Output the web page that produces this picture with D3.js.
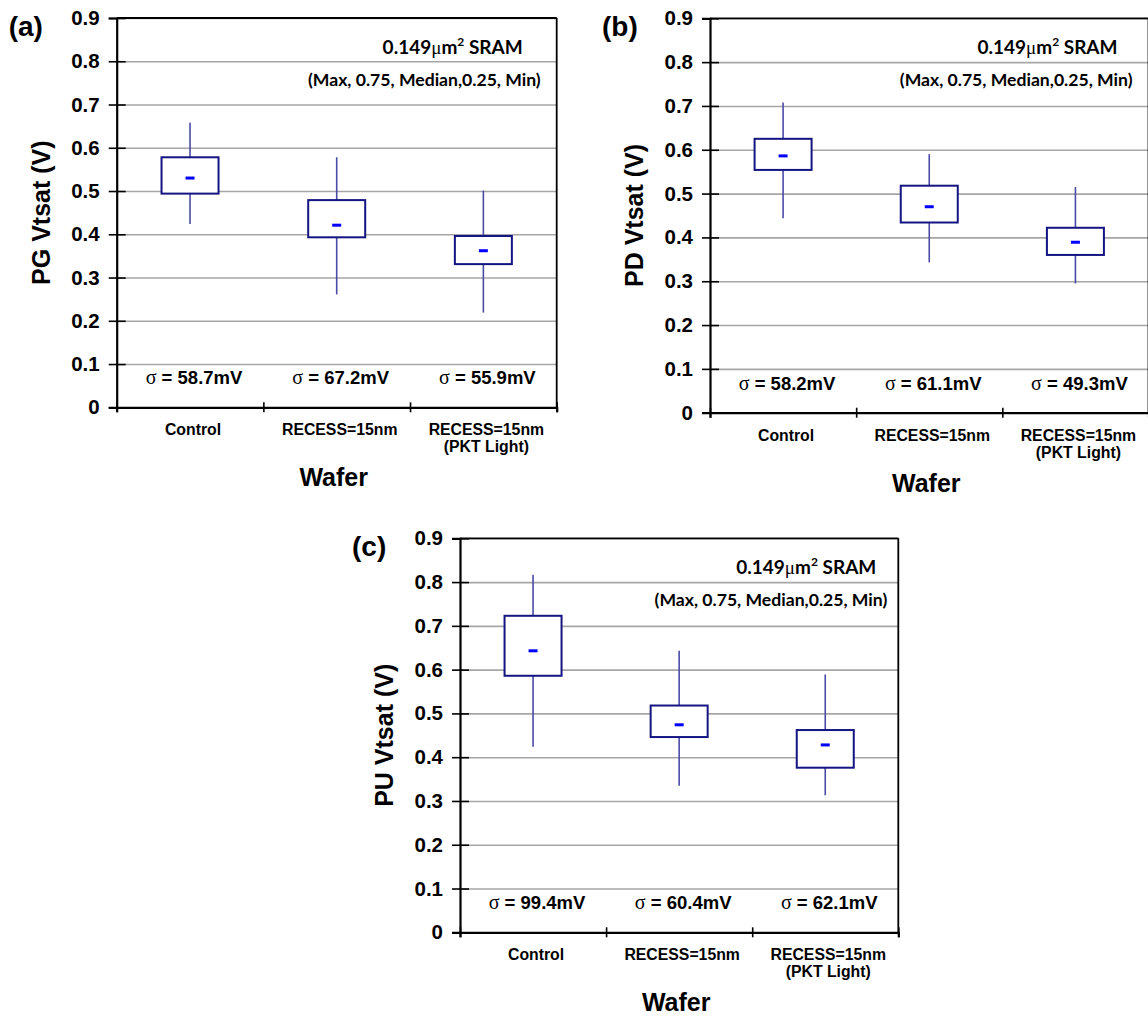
<!DOCTYPE html>
<html>
<head>
<meta charset="utf-8">
<script src="https://cdn.jsdelivr.net/npm/d3@7"></script>
<style>
  body { margin: 0; background: #fff; }
</style>
</head>
<body>
<div id="chart-container"></div>
<script>
// categories on the x axis (one entry per line of the label)
const categories = [["Control"], ["RECESS=15nm"], ["RECESS=15nm", "(PKT Light)"]];
const yTicks = [0, 0.1, 0.2, 0.3, 0.4, 0.5, 0.6, 0.7, 0.8, 0.9];
const yTickLabels = ["0", "0.1", "0.2", "0.3", "0.4", "0.5", "0.6", "0.7", "0.8", "0.9"];

// (a) PG Vtsat
const pgMax    = [0.658, 0.578, 0.501];
const pgQ3     = [0.578, 0.479, 0.396];
const pgMedian = [0.530, 0.421, 0.362];
const pgQ1     = [0.494, 0.393, 0.331];
const pgMin    = [0.424, 0.261, 0.219];
const pgSigma  = ["58.7", "67.2", "55.9"];

// (b) PD Vtsat
const pdMax    = [0.708, 0.590, 0.515];
const pdQ3     = [0.625, 0.518, 0.422];
const pdMedian = [0.586, 0.470, 0.389];
const pdQ1     = [0.554, 0.434, 0.360];
const pdMin    = [0.444, 0.343, 0.295];
const pdSigma  = ["58.2", "61.1", "49.3"];

// (c) PU Vtsat
const puMax    = [0.817, 0.643, 0.589];
const puQ3     = [0.723, 0.518, 0.462];
const puMedian = [0.643, 0.474, 0.428];
const puQ1     = [0.586, 0.446, 0.376];
const puMin    = [0.424, 0.335, 0.313];
const puSigma  = ["99.4", "60.4", "62.1"];

const panels = [
  {tag: "(a)", title: "PG Vtsat (V)", max: pgMax, q3: pgQ3, med: pgMedian, q1: pgQ1, min: pgMin, sigma: pgSigma,
   left: 116.7, right: 556.7, top: 18, bottom: 407.3, sramDx: 34, noteDx: 16},
  {tag: "(b)", title: "PD Vtsat (V)", max: pdMax, q3: pdQ3, med: pdMedian, q1: pdQ1, min: pdMin, sigma: pdSigma,
   left: 710, right: 1148.5, top: 18.3, bottom: 412.7, sramDx: 31, noteDx: 16},
  {tag: "(c)", title: "PU Vtsat (V)", max: puMax, q3: puQ3, med: puMedian, q1: puQ1, min: puMin, sigma: puSigma,
   left: 460, right: 898.3, top: 538.3, bottom: 932.3, sramDx: 22, noteDx: 11}
];

const arial = "'Liberation Sans', Arial, sans-serif";
const calibri = "Lato, 'Open Sans', sans-serif";
const symbolFont = "'Liberation Serif', 'DejaVu Serif', serif";

const svg = d3.select("#chart-container")
  .append("svg")
  .attr("width", 1148)
  .attr("height", 1019);

function drawPanel(p) {
  const g = svg.append("g");
  const wid = p.right - p.left;

  const xScale = d3.scaleBand()
    .domain(d3.range(categories.length))
    .range([p.left, p.right]);
  const edgeScale = d3.scaleLinear()
    .domain([0, categories.length])
    .range([p.left, p.right]);
  const yScale = d3.scaleLinear()
    .domain([0, 0.9])
    .range([p.bottom, p.top]);

  // grid lines
  g.append("g")
    .attr("transform", `translate(${p.left},0)`)
    .call(d3.axisLeft(yScale).tickValues(yTicks).tickSize(-wid).tickFormat(""))
    .call(a => a.select(".domain").remove())
    .call(a => a.selectAll("line").attr("stroke", "#a6a6a6").attr("stroke-width", 1.6));

  // frame top / right
  g.append("line")
    .attr("x1", p.left).attr("x2", p.right)
    .attr("y1", p.top).attr("y2", p.top)
    .attr("stroke", "#000").attr("stroke-width", 1.8);
  g.append("line")
    .attr("x1", p.right).attr("x2", p.right)
    .attr("y1", p.top).attr("y2", p.bottom)
    .attr("stroke", "#000").attr("stroke-width", 1.8);

  // y axis, ticks crossing the line
  const yAxis = g.append("g")
    .attr("transform", `translate(${p.left},0)`)
    .call(d3.axisLeft(yScale).tickValues(yTicks).tickSize(8).tickPadding(9)
      .tickFormat((d, i) => yTickLabels[i]));
  yAxis.select(".domain").attr("stroke-width", 2.2);
  yAxis.selectAll("line").attr("stroke-width", 1.6);
  yAxis.selectAll("text")
    .style("font-family", arial)
    .style("font-weight", "bold")
    .style("font-size", "20.5px")
    .attr("fill", "#000");
  g.append("g")
    .attr("transform", `translate(${p.left},0)`)
    .call(d3.axisRight(yScale).tickValues(yTicks).tickSize(9).tickFormat(""))
    .call(a => a.select(".domain").remove())
    .call(a => a.selectAll("line").attr("stroke-width", 1.6));

  // x axis with ticks at the category edges
  const xAxis = g.append("g")
    .attr("transform", `translate(0,${p.bottom})`)
    .call(d3.axisBottom(edgeScale).tickValues(d3.range(categories.length + 1)).tickSize(5).tickFormat(""));
  xAxis.select(".domain").attr("stroke-width", 2.2);
  xAxis.selectAll("line").attr("stroke-width", 1.6);
  g.append("g")
    .attr("transform", `translate(0,${p.bottom})`)
    .call(d3.axisTop(edgeScale).tickValues(d3.range(categories.length + 1)).tickSize(5).tickFormat(""))
    .call(a => a.select(".domain").remove())
    .call(a => a.selectAll("line").attr("stroke-width", 1.6));

  // category labels
  categories.forEach((lines, i) => {
    const t = g.append("text")
      .attr("x", xScale(i) + xScale.bandwidth() / 2 + 3)
      .attr("y", p.bottom + 28)
      .attr("text-anchor", "middle")
      .style("font-family", arial)
      .style("font-weight", "bold")
      .style("font-size", "15.8px");
    lines.forEach((s, k) => {
      t.append("tspan")
        .attr("x", xScale(i) + xScale.bandwidth() / 2 + 3)
        .attr("dy", k === 0 ? 0 : 17)
        .text(s);
    });
  });

  // box plots
  const boxW = 57;
  const idx = d3.range(categories.length);
  const cx = i => xScale(i) + xScale.bandwidth() / 2;

  g.selectAll(".whisker")
    .data(idx)
    .join("line")
    .attr("x1", cx).attr("x2", cx)
    .attr("y1", i => yScale(p.max[i]))
    .attr("y2", i => yScale(p.min[i]))
    .attr("stroke", "#4b4ba6")
    .attr("stroke-width", 1.6);

  g.selectAll(".box")
    .data(idx)
    .join("rect")
    .attr("x", i => cx(i) - boxW / 2)
    .attr("y", i => yScale(p.q3[i]))
    .attr("width", boxW)
    .attr("height", i => yScale(p.q1[i]) - yScale(p.q3[i]))
    .attr("fill", "#fff")
    .attr("stroke", "#141482")
    .attr("stroke-width", 2);

  g.selectAll(".median")
    .data(idx)
    .join("line")
    .attr("x1", i => cx(i) - 4.5)
    .attr("x2", i => cx(i) + 4.5)
    .attr("y1", i => yScale(p.med[i]))
    .attr("y2", i => yScale(p.med[i]))
    .attr("stroke", "#0000ff")
    .attr("stroke-width", 3);

  // sigma labels
  idx.forEach(i => {
    const t = g.append("text")
      .attr("x", cx(i) + 4)
      .attr("y", p.bottom - 23)
      .attr("text-anchor", "middle")
      .style("font-family", arial)
      .style("font-weight", "bold")
      .style("font-size", "18.5px");
    t.append("tspan").style("font-family", symbolFont).style("font-weight", "normal")
      .style("font-size", "20px").text("σ");
    t.append("tspan").text(" = " + p.sigma[i] + "mV");
  });

  // cell size note
  const sram = g.append("text")
    .attr("x", p.right - p.sramDx)
    .attr("y", p.top + 36)
    .attr("text-anchor", "end")
    .style("font-family", calibri)
    .style("font-weight", "bold")
    .style("font-size", "19px");
  sram.append("tspan").text("0.149");
  sram.append("tspan").style("font-family", symbolFont).style("font-weight", "normal").text("μ");
  sram.append("tspan").text("m");
  sram.append("tspan").attr("dy", -8).style("font-size", "12px").text("2");
  sram.append("tspan").attr("dy", 8).text(" SRAM");

  g.append("text")
    .attr("x", p.right - p.noteDx)
    .attr("y", p.top + 68)
    .attr("text-anchor", "end")
    .style("font-family", calibri)
    .style("font-weight", "bold")
    .style("font-size", "17.6px")
    .text("(Max, 0.75, Median,0.25, Min)");

  // titles
  g.append("text")
    .attr("transform", `translate(${p.left - 67},${(p.top + p.bottom) / 2}) rotate(-90)`)
    .attr("text-anchor", "middle")
    .style("font-family", arial)
    .style("font-weight", "bold")
    .style("font-size", "25px")
    .text(p.title);

  g.append("text")
    .attr("x", (p.left + p.right) / 2 - 3)
    .attr("y", p.bottom + 79)
    .attr("text-anchor", "middle")
    .style("font-family", arial)
    .style("font-weight", "bold")
    .style("font-size", "25px")
    .text("Wafer");

  g.append("text")
    .attr("x", p.left - 108)
    .attr("y", p.top + 18)
    .style("font-family", arial)
    .style("font-weight", "bold")
    .style("font-size", "28px")
    .text(p.tag);
}

panels.forEach(drawPanel);
</script>
</body>
</html>
